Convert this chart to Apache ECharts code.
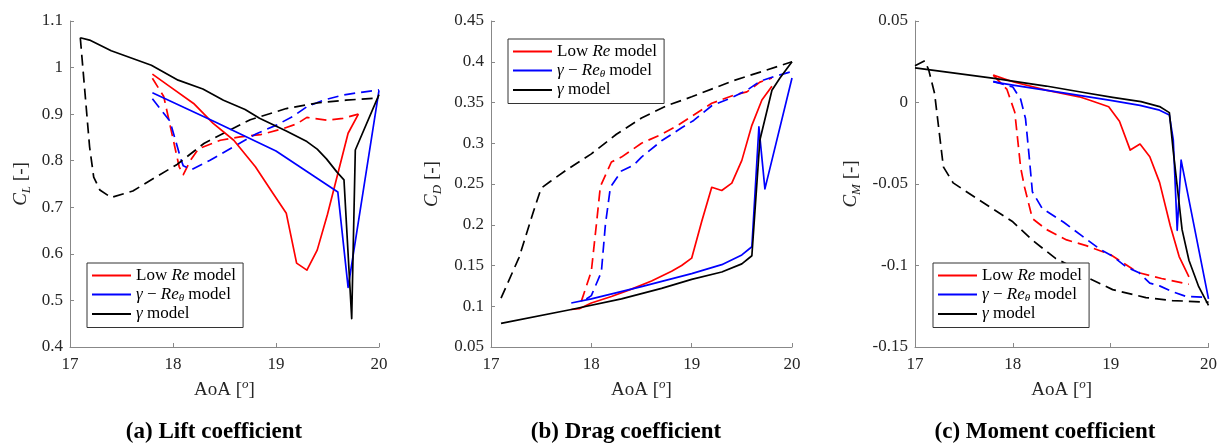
<!DOCTYPE html>
<html>
<head>
<meta charset="utf-8">
<script src="https://cdn.jsdelivr.net/npm/echarts@6/dist/echarts.min.js"></script>
<style>
  html, body { margin: 0; padding: 0; background: #fff; }
  #chart { width: 1220px; height: 443px; }
</style>
</head>
<body>
<div id="chart"></div>
<script>
// tick labels
var aoaTicks = [17, 18, 19, 20];
var clTicks = [0.4, 0.5, 0.6, 0.7, 0.8, 0.9, 1, 1.1];
var cdTicks = [0.05, 0.1, 0.15, 0.2, 0.25, 0.3, 0.35, 0.4, 0.45];
var cmTicks = [-0.15, -0.1, -0.05, 0, 0.05];

var modelNames = ['Low Re model', 'γ - Reθ model', 'γ model'];

// (a) lift coefficient, [AoA, CL]   solid = upstroke, dashed = downstroke
var clLowReUp = [[17.80,0.986],[17.97,0.959],[18.20,0.923],[18.39,0.880],[18.59,0.844],[18.80,0.787],[18.97,0.730],[19.10,0.687],[19.20,0.580],[19.30,0.565],[19.40,0.608],[19.50,0.685],[19.60,0.772],[19.70,0.859],[19.80,0.900]];
var clLowReDown = [[17.80,0.977],[17.91,0.938],[18.06,0.787],[18.10,0.770],[18.17,0.801],[18.25,0.826],[18.46,0.844],[18.65,0.851],[18.85,0.856],[19.07,0.869],[19.20,0.879],[19.30,0.893],[19.50,0.887],[19.65,0.891],[19.80,0.900]];
var clGammaReUp = [[17.80,0.946],[18.40,0.884],[19.00,0.821],[19.60,0.733],[19.70,0.528],[20.00,0.951]];
var clGammaReDown = [[17.80,0.933],[17.97,0.885],[18.08,0.801],[18.10,0.789],[18.18,0.781],[18.36,0.801],[18.62,0.834],[18.81,0.858],[19.01,0.877],[19.17,0.896],[19.30,0.916],[19.46,0.930],[19.65,0.941],[19.80,0.946],[20.00,0.952]];
var clGammaUp = [[17.10,1.064],[17.19,1.059],[17.40,1.036],[17.79,1.005],[18.05,0.973],[18.29,0.954],[18.49,0.930],[18.70,0.910],[18.84,0.891],[19.10,0.864],[19.30,0.841],[19.40,0.825],[19.49,0.804],[19.59,0.776],[19.66,0.759],[19.735,0.461],[19.77,0.823],[20.00,0.942]];
var clGammaDown = [[17.10,1.064],[17.19,0.830],[17.23,0.765],[17.29,0.737],[17.40,0.721],[17.61,0.735],[17.79,0.759],[18.04,0.792],[18.30,0.837],[18.52,0.862],[18.75,0.888],[19.10,0.912],[19.40,0.924],[19.68,0.930],[20.00,0.935]];

// (b) drag coefficient, [AoA, CD]
var cdLowReUp = [[17.80,0.096],[17.88,0.097],[18.00,0.104],[18.20,0.112],[18.40,0.121],[18.60,0.131],[18.80,0.143],[18.90,0.150],[19.00,0.159],[19.10,0.204],[19.20,0.246],[19.30,0.242],[19.40,0.251],[19.50,0.279],[19.60,0.322],[19.70,0.353],[19.80,0.370]];
var cdLowReDown = [[17.90,0.106],[18.00,0.143],[18.05,0.200],[18.09,0.247],[18.20,0.277],[18.30,0.283],[18.50,0.300],[18.70,0.311],[18.85,0.321],[19.00,0.333],[19.20,0.349],[19.42,0.359],[19.55,0.363],[19.68,0.375],[19.80,0.380]];
var cdGammaReUp = [[17.80,0.104],[18.00,0.109],[18.50,0.124],[19.00,0.140],[19.30,0.151],[19.50,0.163],[19.60,0.173],[19.67,0.320],[19.73,0.244],[20.00,0.380]];
var cdGammaReDown = [[17.95,0.109],[18.00,0.113],[18.10,0.142],[18.14,0.200],[18.19,0.246],[18.30,0.266],[18.42,0.273],[18.50,0.283],[18.70,0.303],[18.90,0.319],[19.02,0.328],[19.20,0.346],[19.40,0.356],[19.55,0.365],[19.68,0.376],[19.80,0.381],[20.00,0.388]];
var cdGammaUp = [[17.10,0.079],[17.80,0.096],[18.30,0.109],[18.70,0.122],[19.00,0.133],[19.30,0.142],[19.50,0.152],[19.60,0.162],[19.68,0.304],[19.80,0.365],[19.88,0.380],[20.00,0.400]];
var cdGammaDown = [[17.10,0.110],[17.28,0.160],[17.42,0.215],[17.50,0.245],[17.59,0.253],[17.75,0.267],[18.00,0.287],[18.25,0.311],[18.50,0.331],[18.75,0.346],[19.00,0.357],[19.42,0.377],[19.70,0.388],[20.00,0.400]];

// (c) moment coefficient, [AoA, CM]
var cmLowReUp = [[17.80,0.0168],[18.00,0.0127],[18.34,0.0076],[18.68,0.0035],[18.81,0.0009],[18.98,-0.0026],[19.09,-0.0115],[19.20,-0.0292],[19.30,-0.0255],[19.40,-0.0333],[19.50,-0.0490],[19.61,-0.0758],[19.70,-0.0945],[19.80,-0.1070]];
var cmLowReDown = [[17.80,0.0168],[17.94,0.0080],[18.02,-0.0060],[18.08,-0.0400],[18.12,-0.0520],[18.20,-0.0712],[18.34,-0.0778],[18.55,-0.0843],[18.75,-0.0878],[19.00,-0.0934],[19.22,-0.1020],[19.30,-0.1046],[19.52,-0.1080],[19.80,-0.1115]];
var cmGammaReUp = [[17.80,0.0127],[18.00,0.0107],[18.50,0.0061],[19.00,0.0013],[19.30,-0.0018],[19.50,-0.0047],[19.60,-0.0077],[19.64,-0.0230],[19.68,-0.0784],[19.72,-0.0354],[20.00,-0.1205]];
var cmGammaReDown = [[17.80,0.0130],[18.00,0.0095],[18.08,0.0020],[18.13,-0.0100],[18.17,-0.0350],[18.20,-0.0548],[18.30,-0.0650],[18.52,-0.0735],[18.71,-0.0820],[18.89,-0.0900],[19.02,-0.0943],[19.16,-0.1009],[19.29,-0.1044],[19.40,-0.1108],[19.50,-0.1125],[19.63,-0.1160],[19.77,-0.1190],[20.00,-0.1195]];
var cmGammaUp = [[17.00,0.0212],[17.29,0.0189],[17.81,0.0148],[18.34,0.0101],[18.68,0.0066],[19.02,0.0031],[19.31,0.0005],[19.50,-0.0025],[19.60,-0.0062],[19.64,-0.0300],[19.73,-0.0780],[19.80,-0.0968],[19.90,-0.1130],[20.00,-0.1244]];
var cmGammaDown = [[17.00,0.0225],[17.10,0.0256],[17.14,0.0200],[17.20,0.0056],[17.29,-0.0395],[17.39,-0.0493],[17.66,-0.0600],[18.00,-0.0732],[18.20,-0.0845],[18.44,-0.0958],[18.54,-0.0988],[18.75,-0.1070],[19.02,-0.1148],[19.36,-0.1197],[19.63,-0.1215],[20.00,-0.1225]];

var FONT = 'Liberation Serif';
var TICK_COLOR = '#262626';
var AXIS_COLOR = '#888888';

var rich = {
  n: { fontFamily: FONT, fontSize: 19, color: TICK_COLOR, lineHeight: 24 },
  i: { fontFamily: FONT, fontSize: 19, color: TICK_COLOR, fontStyle: 'italic', lineHeight: 24 },
  sub: { fontFamily: FONT, fontSize: 13, color: TICK_COLOR, fontStyle: 'italic', lineHeight: 12, verticalAlign: 'bottom' },
  sup: { fontFamily: FONT, fontSize: 13, color: TICK_COLOR, fontStyle: 'italic', lineHeight: 12, verticalAlign: 'top' }
};

var legendRich = {
  n: { fontFamily: FONT, fontSize: 17, color: '#000', lineHeight: 18 },
  i: { fontFamily: FONT, fontSize: 17, color: '#000', fontStyle: 'italic', lineHeight: 18 },
  sub: { fontFamily: FONT, fontSize: 11, color: '#000', fontStyle: 'italic', lineHeight: 11, verticalAlign: 'bottom' }
};

function legendText(name) {
  if (name === modelNames[0]) return '{n|Low }{i|Re}{n| model}';
  if (name === modelNames[1]) return '{i|γ}{n| − }{i|Re}{sub|θ}{n| model}';
  return '{i|γ}{n| model}';
}

var grids = [
  { left: 70, top: 21, width: 309, height: 326 },
  { left: 491, top: 21, width: 301, height: 326 },
  { left: 915, top: 21, width: 295, height: 326 }
];

function xAxis(idx) {
  return {
    type: 'value', gridIndex: idx,
    min: aoaTicks[0], max: aoaTicks[aoaTicks.length - 1], interval: aoaTicks[1] - aoaTicks[0],
    name: '{n|AoA [}{sup|o}{n|]}', nameLocation: 'middle', nameGap: 30,
    nameTextStyle: { rich: rich },
    axisLine: { show: true, onZero: false, lineStyle: { color: AXIS_COLOR, width: 1 } },
    axisTick: { show: true, inside: true, length: 4, lineStyle: { color: AXIS_COLOR } },
    axisLabel: { color: TICK_COLOR, fontFamily: FONT, fontSize: 17, margin: 9 },
    splitLine: { show: false }
  };
}

function yAxis(idx, ticks, sub, gap) {
  return {
    type: 'value', gridIndex: idx,
    min: ticks[0], max: ticks[ticks.length - 1],
    interval: Math.round((ticks[1] - ticks[0]) * 1000) / 1000,
    name: '{i|C}{sub|' + sub + '}{n| [-]}', nameLocation: 'middle', nameGap: gap, nameRotate: 90,
    nameTextStyle: { rich: rich },
    axisLine: { show: true, onZero: false, lineStyle: { color: AXIS_COLOR, width: 1 } },
    axisTick: { show: true, inside: true, length: 4, lineStyle: { color: AXIS_COLOR } },
    axisLabel: {
      color: TICK_COLOR, fontFamily: FONT, fontSize: 17, margin: 7,
      formatter: function (v) { return String(parseFloat(v.toFixed(3))); }
    },
    splitLine: { show: false }
  };
}

var colors = ['#ff0000', '#0000ff', '#000000'];

function line(name, data, color, dashed, idx) {
  return {
    type: 'line', name: name, data: data,
    xAxisIndex: idx, yAxisIndex: idx,
    symbol: 'none', silent: true,
    lineStyle: { color: color, width: 1.7, type: dashed ? [11, 6] : 'solid', join: 'round' },
    itemStyle: { color: color },
    emphasis: { disabled: true },
    z: dashed ? 2 : 3
  };
}

var panels = [
  [clLowReUp, clLowReDown, clGammaReUp, clGammaReDown, clGammaUp, clGammaDown],
  [cdLowReUp, cdLowReDown, cdGammaReUp, cdGammaReDown, cdGammaUp, cdGammaDown],
  [cmLowReUp, cmLowReDown, cmGammaReUp, cmGammaReDown, cmGammaUp, cmGammaDown]
];

var series = [];
panels.forEach(function (p, idx) {
  for (var m = 0; m < 3; m++) {
    series.push(line(modelNames[m], p[m * 2], colors[m], false, idx));
    series.push(line(modelNames[m] + ' down', p[m * 2 + 1], colors[m], true, idx));
  }
});

function legend(left, top) {
  return {
    data: modelNames, left: left, top: top, orient: 'vertical',
    icon: 'rect', itemWidth: 39, itemHeight: 2, itemGap: 2,
    padding: [4, 7, 5, 5],
    backgroundColor: '#fff', borderColor: '#333', borderWidth: 1,
    selectedMode: false,
    formatter: legendText,
    textStyle: { rich: legendRich }
  };
}

var subTitles = ['(a) Lift coefficient', '(b) Drag coefficient', '(c) Moment coefficient'];
var subTitleX = [214, 626, 1045];

var chart = echarts.init(document.getElementById('chart'));
chart.setOption({
  animation: false,
  backgroundColor: '#fff',
  title: subTitles.map(function (t, i) {
    return {
      text: t, left: subTitleX[i], top: 432, padding: 0,
      textAlign: 'center', textVerticalAlign: 'middle',
      textStyle: { fontFamily: FONT, fontSize: 23, fontWeight: 'bold', color: '#000' }
    };
  }),
  grid: grids,
  xAxis: [xAxis(0), xAxis(1), xAxis(2)],
  yAxis: [yAxis(0, clTicks, 'L', 37), yAxis(1, cdTicks, 'D', 47), yAxis(2, cmTicks, 'M', 52)],
  legend: [legend(87, 263), legend(508, 39), legend(933, 263)],
  series: series
});
</script>
</body>
</html>
